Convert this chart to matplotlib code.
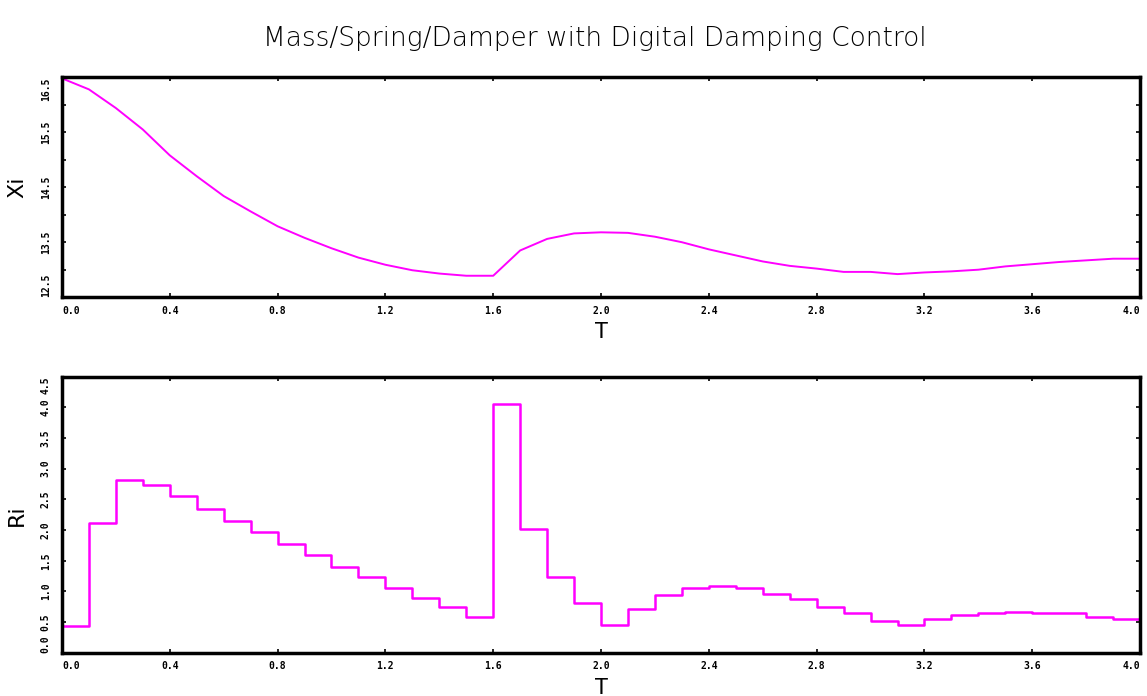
import numpy as np
import matplotlib
matplotlib.use("Agg")
import matplotlib.pyplot as plt

# time grid (sample period 0.1)
t = np.linspace(0, 4, 41)

# position Xi
xi = [16.48, 16.28, 15.94, 15.55, 15.08, 14.70, 14.34, 14.06, 13.79, 13.58,
      13.39, 13.22, 13.09, 12.99, 12.93, 12.89, 12.89, 13.35, 13.56, 13.66,
      13.68, 13.67, 13.60, 13.50, 13.37, 13.26, 13.15, 13.07, 13.02, 12.96,
      12.96, 12.92, 12.95, 12.97, 13.00, 13.06, 13.10, 13.14, 13.17, 13.20,
      13.20]

# damping Ri, held constant over each sample
ri = [0.43, 2.12, 2.82, 2.74, 2.56, 2.34, 2.15, 1.96, 1.78, 1.59,
      1.40, 1.24, 1.05, 0.90, 0.75, 0.59, 4.05, 2.02, 1.23, 0.81,
      0.45, 0.71, 0.94, 1.05, 1.09, 1.05, 0.96, 0.87, 0.75, 0.65,
      0.52, 0.46, 0.55, 0.61, 0.65, 0.67, 0.65, 0.65, 0.58, 0.55]

xticks = [0.0, 0.4, 0.8, 1.2, 1.6, 2.0, 2.4, 2.8, 3.2, 3.6, 4.0]
xi_ticks = [12.5, 13.5, 14.5, 15.5, 16.5]
ri_ticks = [0.0, 0.5, 1.0, 1.5, 2.0, 2.5, 3.0, 3.5, 4.0, 4.5]

fig = plt.figure(figsize=(11.47, 6.96), dpi=100)
ax1 = fig.add_axes([0.054, 0.573, 0.940, 0.316])
ax2 = fig.add_axes([0.054, 0.062, 0.940, 0.397])

ax1.plot(t, xi, color="#ff00ff", linewidth=1.4)
ax2.step(t, ri + [ri[-1]], where="post", color="#ff00ff", linewidth=1.8)

tick_font = dict(fontsize=7, fontweight="bold", family="DejaVu Sans Mono")

def style(ax, yticks, yminor):
    ax.set_xlim(0, 4)
    ax.set_ylim(yticks[0], yticks[-1])
    ax.set_xticks(xticks)
    ax.set_xticklabels([f"{v:.1f}" for v in xticks], **tick_font)
    labs = ax.get_xticklabels()
    labs[0].set_ha("left")
    labs[-1].set_ha("right")
    ax.set_yticks(yticks)
    ax.set_yticklabels([f"{v:.1f}" for v in yticks], rotation=90, va="center", **tick_font)
    ylabs = ax.get_yticklabels()
    ylabs[0].set_va("bottom")
    ylabs[-1].set_va("top")
    if yminor is not None:
        ax.set_yticks(yminor, minor=True)
    ax.tick_params(which="both", direction="in", length=3, width=1.2,
                   top=True, right=True)
    ax.tick_params(axis="x", pad=6)
    ax.tick_params(axis="y", pad=8)
    for s in ax.spines.values():
        s.set_linewidth(2.5)
    ax.set_xlabel("T", fontsize=15, labelpad=5)

style(ax1, xi_ticks, [13.0, 14.0, 15.0, 16.0])
style(ax2, ri_ticks, None)
ax1.set_ylabel("Xi", fontsize=16, labelpad=10)
ax2.set_ylabel("Ri", fontsize=16, labelpad=10)

fig.text(0.519, 0.945, "Mass/Spring/Damper with Digital Damping Control",
         ha="center", va="center", fontsize=19, fontweight="light")

fig.savefig("out.png", dpi=100)
